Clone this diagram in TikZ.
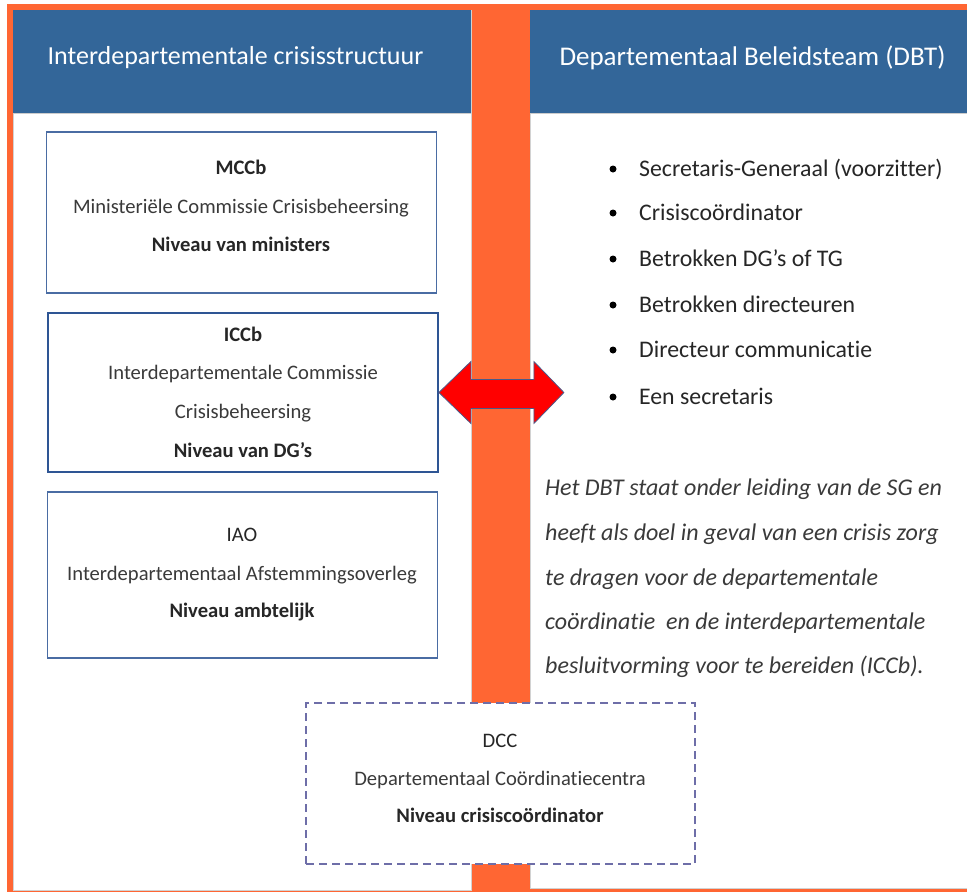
\documentclass[tikz,border=0pt]{standalone}
\usepackage{fontspec}
\setmainfont{Carlito}[RawFeature=-liga]
\definecolor{orng}{HTML}{FF6633}
\definecolor{hdrblue}{HTML}{336699}
\definecolor{boxblue}{HTML}{4A6CA3}
\definecolor{boxdark}{HTML}{2E5594}
\definecolor{dashcol}{HTML}{6E6EA8}
\definecolor{txt}{HTML}{262626}
\definecolor{txtlight}{HTML}{3A3A3A}
\definecolor{arrowedge}{HTML}{4A5A8A}
\tikzset{
  hdrtext/.style={text=white, font=\fontsize{26}{30}\selectfont, inner sep=0pt, yshift=-3pt},
  lvlbox/.style={draw=boxblue, line width=1.2pt, fill=white, inner sep=0pt},
  boxtitle/.style={text=txt, font=\fontsize{20.6}{24}\selectfont\bfseries, inner sep=0pt, text height=1.5ex, text depth=0.25ex, yshift=-5pt},
  boxplain/.style={text=txt, font=\fontsize{20.6}{24}\selectfont, inner sep=0pt, text height=1.5ex, text depth=0.25ex, yshift=-5pt},
  boxdesc/.style={text=txtlight, font=\fontsize{20.6}{24}\selectfont, inner sep=0pt, text height=1.5ex, text depth=0.25ex, yshift=-5pt},
  bulletdot/.style={circle, fill=black, inner sep=0pt, minimum size=7pt},
  bulletitem/.style={anchor=west, text=txt, font=\fontsize{23.8}{27}\selectfont, inner sep=0pt, text height=1.5ex, text depth=0.25ex, yshift=-5pt},
  paraline/.style={anchor=west, text=txtlight, font=\fontsize{24}{27}\selectfont\itshape, inner sep=0pt, text height=1.5ex, text depth=0.25ex, yshift=-5pt},
}
\begin{document}
\begin{tikzpicture}[x=1pt,y=-1pt]
\useasboundingbox (0,0) rectangle (967,892);
\fill[white] (0,0) rectangle (967,892);
% orange background frame
\fill[orng] (7,4) rectangle (967,892);
% panels
\filldraw[fill=white, draw=gray!35, line width=0.8pt] (13,10) rectangle (471,890);
\filldraw[fill=white, draw=gray!35, line width=0.8pt] (530,10) rectangle (967,888);
% headers
\fill[hdrblue] (13,10) rectangle (471,113);
\fill[hdrblue] (530,10) rectangle (967,113);
\draw[gray!40, line width=0.8pt] (13,113) -- (471,113);
\draw[gray!40, line width=0.8pt] (530,113) -- (967,113);
\node[hdrtext] (hl) at (235.5,55) {Interdepartementale crisisstructuur};
\node[hdrtext, font=\fontsize{27}{31}\selectfont] (hr) at (752.5,55) {Departementaal Beleidsteam (DBT)};

% MCCb box
\node[lvlbox, minimum width=390pt, minimum height=161pt] (mccb) at (241.5,212.5) {};
\node[boxtitle] (mccbt) at (241,167) {MCCb};
\node[boxdesc] (mccbd) at (241,206) {Ministeriële Commissie Crisisbeheersing};
\node[boxtitle] (mccbn) at (241,244) {Niveau van ministers};

% ICCb box
\node[lvlbox, draw=boxdark, line width=1.8pt, minimum width=390pt, minimum height=159pt] (iccb) at (243,392.5) {};
\node[boxtitle] (iccbt) at (243,334) {ICCb};
\node[boxdesc] (iccbd1) at (243,372) {Interdepartementale Commissie};
\node[boxdesc] (iccbd2) at (243,411) {Crisisbeheersing};
\node[boxtitle] (iccbn) at (243,450) {Niveau van DG’s};

% IAO box
\node[lvlbox, line width=1.5pt, minimum width=390pt, minimum height=166pt] (iao) at (242.5,575) {};
\node[boxplain] (iaot) at (242,534) {IAO};
\node[boxdesc] (iaod) at (242,573) {Interdepartementaal Afstemmingsoverleg};
\node[boxtitle] (iaon) at (242,610) {Niveau ambtelijk};

% DCC dashed box
\node[lvlbox, draw=dashcol, line width=1.3pt, dash pattern=on 8pt off 5pt, minimum width=389pt, minimum height=161pt] (dcc) at (500.5,783.5) {};
\node[boxplain] (dcct) at (500,740) {DCC};
\node[boxdesc] (dccd) at (500,778) {Departementaal Coördinatiecentra};
\node[boxtitle] (dccn) at (500,815) {Niveau crisiscoördinator};

% bullet list
\foreach \y/\t [count=\i] in {169/Secretaris-Generaal (voorzitter), 213/Crisiscoördinator, 259/Betrokken DG’s of TG, 305/Betrokken directeuren, 350/Directeur communicatie, 397/Een secretaris}{
  \node[bulletdot] (dot\i) at (613,\y) {};
  \node[bulletitem] (item\i) at (639,\y) {\t};
}

% italic paragraph
\node[paraline] (p1) at (545,488) {Het DBT staat onder leiding van de SG en};
\node[paraline] (p2) at (545,533) {heeft als doel in geval van een crisis zorg};
\node[paraline] (p3) at (545,578) {te dragen voor de departementale};
\node[paraline] (p4) at (545,622) {coördinatie\ \ en de interdepartementale};
\node[paraline] (p5) at (545,666) {besluitvorming voor te bereiden (ICCb).};

% double arrow between ICCb and DBT
\coordinate (al) at (iccb.east);
\filldraw[fill=red, draw=arrowedge, line width=0.8pt]
  (al) -- ++(32,-31) -- ++(0,18) -- ++(63,0) -- ++(0,-18) -- ++(30,31)
  -- ++(-30,31) -- ++(0,-15) -- ++(-63,0) -- ++(0,15) -- cycle;
\end{tikzpicture}
\end{document}
